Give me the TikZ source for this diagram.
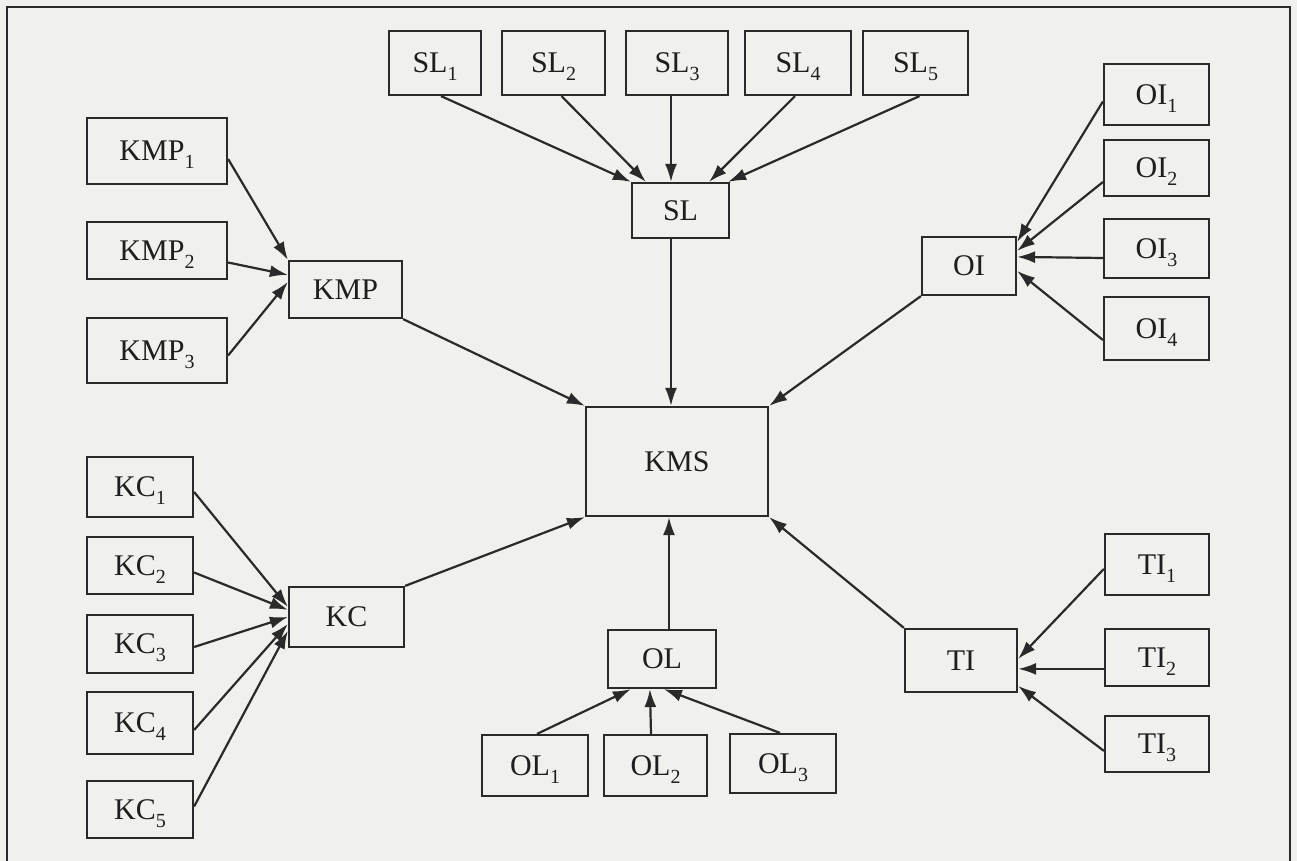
\documentclass[tikz,border=0pt]{standalone}
\usepackage{fontspec}
\setmainfont{Liberation Serif}
\usetikzlibrary{arrows.meta}

\definecolor{paper}{RGB}{240,240,236}
\definecolor{ink}{RGB}{42,42,42}
\definecolor{letter}{RGB}{30,30,30}

% subscript index, set a little below the baseline without changing the box size
\newcommand{\lowidx}[1]{\raisebox{-0.26em}[0pt][0pt]{\fontsize{20}{20}\selectfont #1}}

% box given by its corners (x1,y1) and (x2,y2)
\newcommand{\kbox}[6]{%
  \node[kb, minimum width={(#4-#2)*1pt}, minimum height={(#5-#3)*1pt}]
    (#1) at ({(#2+#4)/2},{(#3+#5)/2}) {#6};}

\tikzset{
  kb/.style={draw=ink, line width=2.2pt, fill=paper, inner sep=0pt,
    text=letter, font=\fontsize{30}{30}\selectfont},
  arr/.style={draw=ink, line width=2.2pt, -{Latex[length=18pt,width=12pt]}},
}

\begin{document}
\begin{tikzpicture}[x=1pt, y=-1pt]
\fill[paper] (0,0) rectangle (1297,861);
\useasboundingbox (0,0) rectangle (1297,861);

% outer frame, running past the lower edge
\draw[ink, line width=2.6pt] (7,875) -- (7,7) -- (1290,7) -- (1290,875);

% source boxes along the top
\kbox{SLa}{389}{31}{481}{95}{SL\lowidx{1}}
\kbox{SLb}{502}{31}{605}{95}{SL\lowidx{2}}
\kbox{SLc}{626}{31}{728}{95}{SL\lowidx{3}}
\kbox{SLd}{745}{31}{851}{95}{SL\lowidx{4}}
\kbox{SLe}{863}{31}{968}{95}{SL\lowidx{5}}
\kbox{SL}{632}{183}{729}{238}{SL}

% left group
\kbox{KMPa}{87}{118}{227}{184}{KMP\lowidx{1}}
\kbox{KMPb}{87}{222}{227}{279}{KMP\lowidx{2}}
\kbox{KMPc}{87}{318}{227}{383}{KMP\lowidx{3}}
\kbox{KMP}{289}{261}{402}{318}{KMP}

% centre
\kbox{KMS}{586}{407}{768}{516}{KMS}

% right group
\kbox{OIa}{1104}{64}{1209}{125}{OI\lowidx{1}}
\kbox{OIb}{1104}{140}{1209}{196}{OI\lowidx{2}}
\kbox{OIc}{1104}{219}{1209}{278}{OI\lowidx{3}}
\kbox{OId}{1104}{297}{1209}{360}{OI\lowidx{4}}
\kbox{OI}{922}{237}{1016}{295}{OI}

% lower left group
\kbox{KCa}{87}{457}{193}{517}{KC\lowidx{1}}
\kbox{KCb}{87}{537}{193}{594}{KC\lowidx{2}}
\kbox{KCc}{87}{615}{193}{673}{KC\lowidx{3}}
\kbox{KCd}{87}{692}{193}{754}{KC\lowidx{4}}
\kbox{KCe}{87}{781}{193}{838}{KC\lowidx{5}}
\kbox{KC}{289}{587}{404}{647}{KC}

% bottom group
\kbox{OL}{608}{630}{716}{688}{OL}
\kbox{OLa}{482}{735}{588}{796}{OL\lowidx{1}}
\kbox{OLb}{604}{735}{707}{796}{OL\lowidx{2}}
\kbox{OLc}{730}{734}{836}{793}{OL\lowidx{3}}

% lower right group
\kbox{TI}{905}{629}{1017}{692}{TI}
\kbox{TIa}{1105}{534}{1209}{595}{TI\lowidx{1}}
\kbox{TIb}{1105}{629}{1209}{686}{TI\lowidx{2}}
\kbox{TIc}{1105}{716}{1209}{772}{TI\lowidx{3}}

% SL inputs
\draw[arr] ([xshift=6pt]SLa.south) -- (SL.north west);
\draw[arr] ([xshift=8pt]SLb.south) -- ([xshift=15pt]SL.north west);
\draw[arr] ([xshift=-6pt]SLc.south) -- ([xshift=-9.5pt]SL.north);
\draw[arr] ([xshift=-3pt]SLd.south) -- ([xshift=-21pt]SL.north east);
\draw[arr] ([xshift=4pt]SLe.south) -- ([xshift=-2pt]SL.north east);
\draw[arr] ([xshift=-9.5pt]SL.south) -- ([xshift=-6pt]KMS.north);

% KMP inputs
\draw[arr] ([yshift=-8pt]KMPa.east) -- (KMP.north west);
\draw[arr] ([yshift=-12pt]KMPb.east) -- ([yshift=-15pt]KMP.north west);
\draw[arr] ([yshift=-5pt]KMPc.east) -- ([yshift=-22pt]KMP.north west);
\draw[arr] (KMP.south east) -- (KMS.north west);

% OI inputs
\draw[arr] ([yshift=-7pt]OIa.west) -- ([yshift=-6pt]OI.north east);
\draw[arr] ([yshift=-14pt]OIb.west) -- ([yshift=-15pt]OI.north east);
\draw[arr] ([yshift=-9.5pt]OIc.west) -- ([yshift=-21pt]OI.north east);
\draw[arr] ([yshift=-11.5pt]OId.west) -- ([yshift=-35pt]OI.north east);
\draw[arr] (OI.south west) -- (KMS.north east);

% KC inputs
\draw[arr] ([yshift=-5pt]KCa.east) -- ([yshift=-21pt]KC.north west);
\draw[arr] ([yshift=-7pt]KCb.east) -- ([yshift=-24pt]KC.north west);
\draw[arr] ([yshift=-3pt]KCc.east) -- ([yshift=-31pt]KC.north west);
\draw[arr] ([yshift=-7pt]KCd.east) -- ([yshift=-38pt]KC.north west);
\draw[arr] ([yshift=3pt]KCe.east) -- ([yshift=-45pt]KC.north west);
\draw[arr] (KC.north east) -- (KMS.south west);

% OL inputs
\draw[arr] ([xshift=2pt]OLa.north) -- ([xshift=24pt]OL.south west);
\draw[arr] ([xshift=-4.5pt]OLb.north) -- ([xshift=43pt]OL.south west);
\draw[arr] ([xshift=-3pt]OLc.north) -- ([xshift=57pt]OL.south west);
\draw[arr] ([xshift=7pt]OL.north) -- ([xshift=-8pt]KMS.south);

% TI inputs
\draw[arr] ([yshift=-36pt]TIa.north west) -- ([yshift=-31pt]TI.north east);
\draw[arr] ([yshift=-41pt]TIb.north west) -- ([yshift=-41pt]TI.north east);
\draw[arr] ([yshift=-36pt]TIc.north west) -- ([yshift=-58pt]TI.north east);
\draw[arr] (TI.north west) -- (KMS.south east);
\end{tikzpicture}
\end{document}
